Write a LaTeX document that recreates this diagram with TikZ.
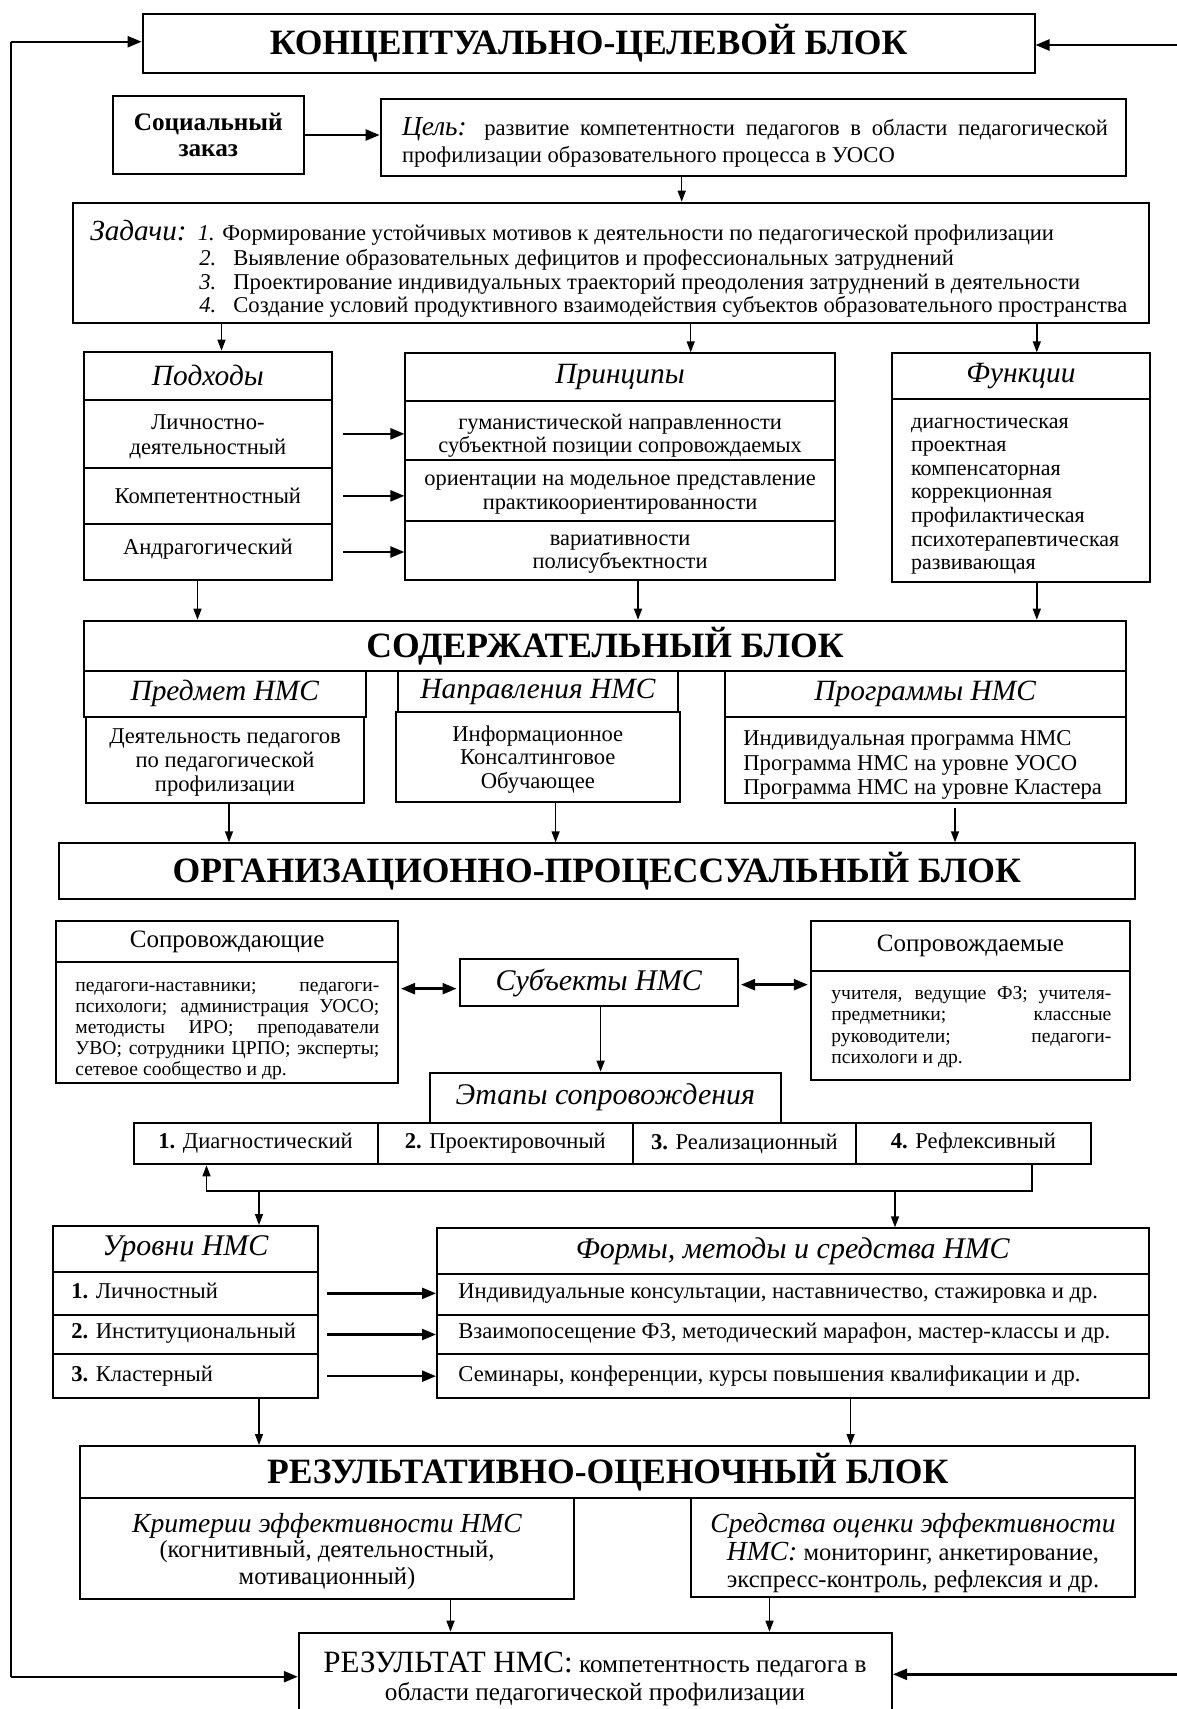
\documentclass[tikz,border=0pt]{standalone}
\usepackage{fontspec}
\setmainfont{Liberation Serif}
\usetikzlibrary{arrows.meta,fit}
\tikzset{
 bx/.style={draw, line width=1pt, inner sep=0pt},
 arr/.style={line width=0.7pt, -{Triangle[length=5.5pt,width=4pt]}},
 harr/.style={line width=1.2pt, -{Triangle[length=7pt,width=5.5pt]}},
 darr/.style={line width=1.2pt, {Triangle[length=7pt,width=5.5pt]}-{Triangle[length=7pt,width=5.5pt]}},
 ttl/.style={font=\fontsize{17.8}{20}\selectfont\bfseries, inner sep=0pt},
 hdr/.style={font=\fontsize{14.7}{17}\selectfont\itshape, inner sep=0pt},
 bod/.style={font=\fontsize{11.3}{12.5}\selectfont, inner sep=0pt},
 lbl/.style={bod, anchor=base west},
 small/.style={font=\fontsize{9.8}{10.5}\selectfont, inner sep=0pt, anchor=base west},
}
\newcommand\bxn[3]{\node[bx,fit={#2 #3}] (#1) {};}
\begin{document}
\begin{tikzpicture}[x=0.5pt,y=-0.5pt]
\useasboundingbox (0,0) rectangle (1177,1709);
\fill[white] (0,0) rectangle (1177,1709);

% ---------- conceptual block
\bxn{top}{(142.6,14)}{(1034.5,72.7)}
\node[ttl] (top-t) at (top.center) {КОНЦЕПТУАЛЬНО-ЦЕЛЕВОЙ БЛОК};

\bxn{soc}{(112.6,95.7)}{(304,174.3)}
\node[font=\fontsize{12.6}{13.3}\selectfont\bfseries, align=center, inner sep=0pt] (soc-t) at (soc.center) {Социальный\\заказ};

\bxn{goal}{(380.6,99)}{(1126,176)}
\node[lbl] (goal-t1) at (401.6,135.5) {\makebox[353pt][s]{{\fontsize{13.7}{14}\selectfont\itshape Цель:} развитие компетентности педагогов в области педагогической}};
\node[lbl] (goal-t2) at (401.6,162.5) {профилизации образовательного процесса в УОСО};

\bxn{tasks}{(72.8,202.7)}{(1148.6,322.7)}
\node[font=\fontsize{14.6}{15}\selectfont\itshape, anchor=base west, inner sep=0pt] (tasks-h) at (90,240) {Задачи:};
\node[lbl] (tasks-1) at (197.5,240) {\textit{1.} Формирование устойчивых мотивов к деятельности по педагогической профилизации};
\node[lbl] (tasks-n2) at (199,265) {\textit{2.}};
\node[lbl] (tasks-2) at (233,265) {Выявление образовательных дефицитов и профессиональных затруднений};
\node[lbl] (tasks-n3) at (199,289) {\textit{3.}};
\node[lbl] (tasks-3) at (233,289) {Проектирование индивидуальных траекторий преодоления затруднений в деятельности};
\node[lbl] (tasks-n4) at (199,312) {\textit{4.}};
\node[lbl] (tasks-4) at (233,312) {Создание условий продуктивного взаимодействия субъектов образовательного пространства};

\draw[harr] (soc.east) -- (soc.east -| goal.west);
\draw[arr] (goal.south -| 681.7,0) -- (tasks.north -| 681.7,0);

% approaches
\bxn{podh-h}{(84,351.7)}{(331.8,400)}
\bxn{podh-1}{(84,400)}{(331.8,467.7)}
\bxn{podh-2}{(84,467.7)}{(331.8,524)}
\bxn{podh-3}{(84,524)}{(331.8,580)}
\node[hdr] (podh-ht) at (podh-h.center) {Подходы};
\node[bod, align=center] (podh-1t) at (207.9,437) {Личностно-\\деятельностный};
\node[bod] (podh-2t) at (podh-2.center) {Компетентностный};
\node[bod] (podh-3t) at (207.9,549.5) {Андрагогический};

% principles
\bxn{prin-h}{(405.4,353.3)}{(834.8,401)}
\bxn{prin-1}{(405.4,401)}{(834.8,460)}
\bxn{prin-2}{(405.4,460)}{(834.8,520.7)}
\bxn{prin-3}{(405.4,520.7)}{(834.8,580)}
\node[hdr] (prin-ht) at (prin-h.center) {Принципы};
\node[font=\fontsize{11.2}{11.6}\selectfont, inner sep=0pt, align=center] (prin-1t) at (620.1,436) {гуманистической направленности\\субъектной позиции сопровождаемых};
\node[font=\fontsize{11.2}{11.6}\selectfont, inner sep=0pt, align=center] (prin-2t) at (620.1,494.5) {ориентации на модельное представление\\практикоориентированности};
\node[font=\fontsize{11.2}{11.6}\selectfont, inner sep=0pt, align=center] (prin-3t) at (620.1,554) {вариативности\\полисубъектности};

% functions
\bxn{func-h}{(892,353.3)}{(1150,399)}
\bxn{func-b}{(892,399)}{(1150,582)}
\node[hdr] (func-ht) at (func-h.center) {Функции};
\foreach \t [count=\i] in {диагностическая,проектная,компенсаторная,коррекционная,профилактическая,психотерапевтическая,развивающая}
  \node[font=\fontsize{11}{12}\selectfont, inner sep=0pt, anchor=base west] (func-\i) at (910.7,{428+23.6*(\i-1)}) {\t};

\draw[arr] (tasks.south -| 221.5,0) -- (podh-h.north -| 221.5,0);
\draw[arr] (tasks.south -| 690.7,0) -- (prin-h.north -| 690.7,0);
\draw[arr] (tasks.south -| 1036.8,0) -- (func-h.north -| 1036.8,0);

\draw[harr] ([xshift=5pt]podh-1.east) -- (podh-1.east -| prin-1.west);
\draw[harr] ([xshift=5pt]podh-2.east) -- (podh-2.east -| prin-2.west);
\draw[harr] ([xshift=5pt]podh-3.east) -- (podh-3.east -| prin-3.west);

% ---------- content block
\bxn{sod}{(84,620.7)}{(1126,670.7)}
\node[ttl] (sod-t) at (sod.center) {СОДЕРЖАТЕЛЬНЫЙ БЛОК};

\draw[arr] (podh-3.south -| 197.5,0) -- (sod.north -| 197.5,0);
\draw[arr] (prin-3.south -| 638,0) -- (sod.north -| 638,0);
\draw[arr] (func-b.south -| 1036.8,0) -- (sod.north -| 1036.8,0);

\bxn{pred-h}{(84,670.7)}{(365.6,716.7)}
\bxn{pred-b}{(86,716.7)}{(364,802.7)}
\bxn{napr-h}{(398,670.7)}{(678,712.3)}
\bxn{napr-b}{(395.6,712.3)}{(680,801.7)}
\bxn{prog-h}{(724.5,670.7)}{(1126,717.3)}
\bxn{prog-b}{(724.5,717.3)}{(1126,802.7)}
\node[hdr] (pred-ht) at (pred-h.center) {Предмет НМС};
\node[hdr] (napr-ht) at (napr-h.center) {Направления НМС};
\node[hdr] (prog-ht) at (prog-h.center) {Программы НМС};
\node[font=\fontsize{11.3}{12}\selectfont, inner sep=0pt, align=center] (pred-t) at (225,762) {Деятельность педагогов\\по педагогической\\профилизации};
\node[font=\fontsize{11.3}{11.7}\selectfont, inner sep=0pt, align=center] (napr-t) at (537.8,759.5) {Информационное\\Консалтинговое\\Обучающее};
\node[lbl] (prog-1) at (743,745) {Индивидуальная программа НМС};
\node[lbl] (prog-2) at (743,770) {Программа НМС на уровне УОСО};
\node[lbl] (prog-3) at (743,794.5) {Программа НМС на уровне Кластера};

% ---------- organisational block
\bxn{org}{(58.6,843.3)}{(1135,899.3)}
\node[ttl] (org-t) at (org.center) {ОРГАНИЗАЦИОННО-ПРОЦЕССУАЛЬНЫЙ БЛОК};
\draw[arr] (pred-b.south -| 229,0) -- (org.north -| 229,0);
\draw[arr] (napr-b.south -| 555.6,0) -- (org.north -| 555.6,0);
\draw[arr] ([yshift=-2pt]prog-b.south -| 955,0) -- (org.north -| 955,0);

\bxn{sop1-h}{(56.3,920.7)}{(398,962.3)}
\bxn{sop1-b}{(56.3,962.3)}{(398,1083.3)}
\node[font=\fontsize{12.5}{14}\selectfont, inner sep=0pt] (sop1-ht) at (sop1-h.center) {Сопровождающие};
\node[small] (sop1-1) at (75,991) {\makebox[152pt][s]{педагоги-наставники; педагоги-}};
\node[small] (sop1-2) at (75,1012) {\makebox[152pt][s]{психологи; администрация УОСО;}};
\node[small] (sop1-3) at (75,1033) {\makebox[152pt][s]{методисты ИРО; преподаватели}};
\node[small] (sop1-4) at (75,1054) {\makebox[152pt][s]{УВО; сотрудники ЦРПО; эксперты;}};
\node[small] (sop1-5) at (75,1075) {сетевое сообщество и др.};

\bxn{sop2-h}{(810.8,920.7)}{(1130,971)}
\bxn{sop2-b}{(810.8,971)}{(1130,1080)}
\node[font=\fontsize{12.5}{14}\selectfont, inner sep=0pt] (sop2-ht) at (sop2-h.center) {Сопровождаемые};
\node[small] (sop2-1) at (831,999.5) {\makebox[140pt][s]{учителя, ведущие ФЗ; учителя-}};
\node[small] (sop2-2) at (831,1020.5) {\makebox[140pt][s]{предметники; классные}};
\node[small] (sop2-3) at (831,1042) {\makebox[140pt][s]{руководители; педагоги-}};
\node[small] (sop2-4) at (831,1063) {психологи и др.};

\bxn{subj}{(459.5,959.3)}{(738,1006)}
\node[font=\fontsize{15}{17}\selectfont\itshape, inner sep=0pt] (subj-t) at (subj.center) {Субъекты НМС};
\draw[darr, shorten <=1pt, shorten >=1pt] ([yshift=-3pt]subj.west) -- ([yshift=-3pt]subj.west -| sop1-b.east);
\draw[darr, shorten <=1pt, shorten >=1pt] ([yshift=-1pt]subj.east) -- ([yshift=-1pt]subj.east -| sop2-b.west);

\bxn{etapy}{(430,1072.7)}{(780.8,1122.7)}
\node[font=\fontsize{15}{17}\selectfont\itshape, inner sep=0pt] (etapy-t) at (etapy.center) {Этапы сопровождения};
\draw[arr] (subj.south -| 600.6,0) -- (etapy.north -| 600.6,0);

\bxn{st1}{(133.6,1122.7)}{(377.6,1164.3)}
\bxn{st2}{(377.6,1122.7)}{(633,1164.3)}
\bxn{st3}{(633,1122.7)}{(855.9,1164.3)}
\bxn{st4}{(855.9,1122.7)}{(1091,1164.3)}
\node[bod] (st1-t) at (st1.center) {\textbf{1.} Диагностический};
\node[bod] (st2-t) at (st2.center) {\textbf{2.} Проектировочный};
\node[bod] (st3-t) at (st3.center) {\textbf{3.} Реализационный};
\node[bod] (st4-t) at (st4.center) {\textbf{4.} Рефлексивный};

\coordinate (fb-r) at (1032,1191);
\coordinate (fb-l) at (206.5,1191);
\coordinate (fb-a) at (259,1191);
\coordinate (fb-b) at (895,1191);
\draw[arr] (st4.south -| fb-r) -- (fb-r) -- (fb-l) -- (st1.south -| fb-l);

% levels / forms
\bxn{ur-h}{(52.6,1226)}{(318.3,1271.7)}
\bxn{ur-1}{(52.6,1271.7)}{(318.3,1315)}
\bxn{ur-2}{(52.6,1315)}{(318.3,1354)}
\bxn{ur-3}{(52.6,1354)}{(318.3,1398.3)}
\bxn{fo-h}{(437,1228.3)}{(1148.6,1274)}
\bxn{fo-1}{(437,1274)}{(1148.6,1315)}
\bxn{fo-2}{(437,1315)}{(1148.6,1354)}
\bxn{fo-3}{(437,1354)}{(1148.6,1398.3)}
\node[font=\fontsize{15}{17}\selectfont\itshape, inner sep=0pt] (ur-ht) at (ur-h.center) {Уровни НМС};
\node[font=\fontsize{15}{17}\selectfont\itshape, inner sep=0pt] (fo-ht) at (fo-h.center) {Формы, методы и средства НМС};
\node[lbl] (ur-1t) at (71,1298) {\textbf{1.} Личностный};
\node[lbl] (ur-2t) at (71,1338) {\textbf{2.} Институциональный};
\node[lbl] (ur-3t) at (71,1381) {\textbf{3.} Кластерный};
\node[lbl] (fo-1t) at (458,1298) {Индивидуальные консультации, наставничество, стажировка и др.};
\node[lbl] (fo-2t) at (458,1338) {Взаимопосещение ФЗ, методический марафон, мастер-классы и др.};
\node[lbl] (fo-3t) at (458,1381) {Семинары, конференции, курсы повышения квалификации и др.};

\draw[arr] (fb-a) -- (ur-h.north -| fb-a);
\draw[arr] (fb-b) -- (fo-h.north -| fb-b);
\draw[harr] ([xshift=4pt]ur-1.east) -- (ur-1.east -| fo-1.west);
\draw[harr] ([xshift=4pt]ur-2.east) -- (ur-2.east -| fo-2.west);
\draw[harr] ([xshift=4pt]ur-3.east) -- (ur-3.east -| fo-3.west);

% ---------- result block
\bxn{rez}{(80.3,1446)}{(1135,1498.3)}
\node[ttl] (rez-t) at (rez.center) {РЕЗУЛЬТАТИВНО-ОЦЕНОЧНЫЙ БЛОК};
\draw[arr] (ur-3.south -| 259,0) -- (rez.north -| 259,0);
\draw[arr] (fo-3.south -| 850.6,0) -- (rez.north -| 850.6,0);

\bxn{krit}{(80.3,1498.3)}{(574.3,1599.3)}
\bxn{sred}{(690.7,1498.3)}{(1135,1597.3)}
\node[font=\fontsize{13.8}{15}\selectfont\itshape, inner sep=0pt, anchor=base] (krit-1) at (327,1532) {Критерии эффективности НМС};
\node[font=\fontsize{12.3}{13}\selectfont, inner sep=0pt, anchor=base] (krit-2) at (327,1557) {(когнитивный, деятельностный,};
\node[font=\fontsize{12.3}{13}\selectfont, inner sep=0pt, anchor=base] (krit-3) at (327,1584) {мотивационный)};
\node[font=\fontsize{13.8}{15}\selectfont\itshape, inner sep=0pt, anchor=base] (sred-1) at (913,1532) {Средства оценки эффективности};
\node[font=\fontsize{12.3}{13}\selectfont, inner sep=0pt, anchor=base] (sred-2) at (913,1560) {{\fontsize{13.8}{15}\selectfont\itshape НМС:} мониторинг, анкетирование,};
\node[font=\fontsize{12.3}{13}\selectfont, inner sep=0pt, anchor=base] (sred-3) at (913,1587) {экспресс-контроль, рефлексия и др.};

\bxn{res}{(298.8,1632.7)}{(892,1714)}
\node[font=\fontsize{12.6}{13}\selectfont, inner sep=0pt, anchor=base] (res-1) at (595,1672) {{\fontsize{15.5}{16}\selectfont РЕЗУЛЬТАТ НМС:} компетентность педагога в};
\node[font=\fontsize{12.6}{13}\selectfont, inner sep=0pt, anchor=base] (res-2) at (595,1700) {области педагогической профилизации};
\draw[arr] (krit.south -| 450.5,0) -- (res.north -| 450.5,0);
\draw[arr] (sred.south -| 769.5,0) -- (res.north -| 769.5,0);

% ---------- feedback loop
\coordinate (lt) at (11,41.7);
\coordinate (lb) at (11,1676.7);
\coordinate (rt) at (1182,45);
\coordinate (rb) at (1182,1674.3);
\draw[line width=1pt] (lb) -- (lt);
\draw[harr] (lt) -- (lt -| top.west);
\draw[harr] (lb) -- (lb -| res.west);
\draw[harr] (rt) -- (rt -| top.east);
\draw[harr] (rb) -- (rb -| res.east);
\end{tikzpicture}
\end{document}
